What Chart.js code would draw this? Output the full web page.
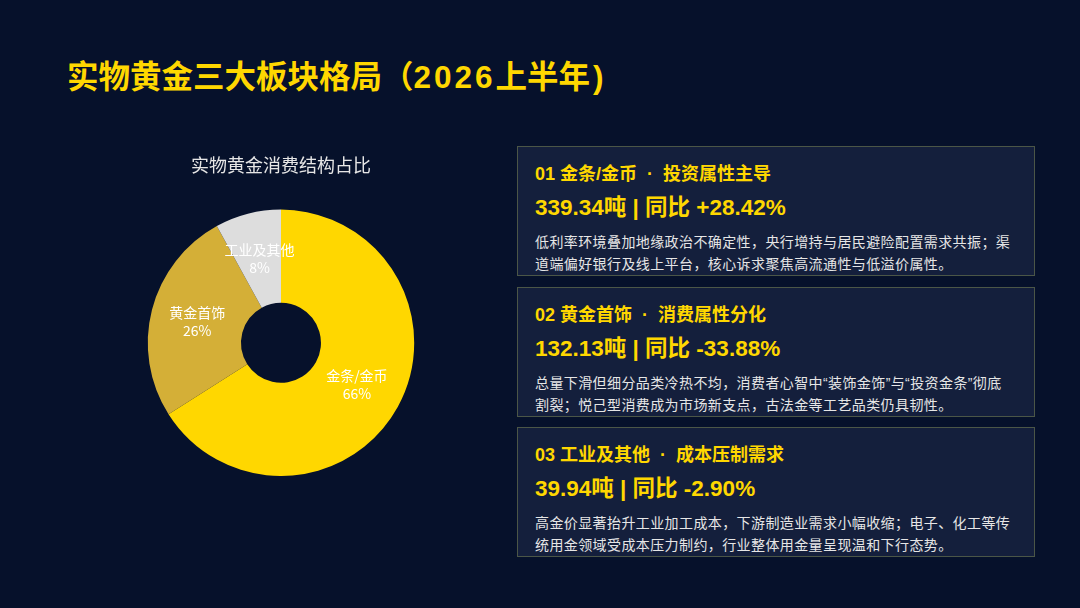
<!DOCTYPE html>
<html>
<head>
<meta charset="utf-8">
<script src="https://cdn.jsdelivr.net/npm/chart.js@4.4.1/dist/chart.umd.min.js"></script>
<style>
  html, body { margin: 0; padding: 0; }
  body {
    width: 1080px; height: 608px; overflow: hidden; position: relative;
    background: #06112b;
    font-family: 'Liberation Sans', 'Noto Sans CJK SC', sans-serif;
  }
  .title {
    position: absolute; left: 67px; top: 55px;
    font-size: 31.5px; font-weight: bold; color: #ffd700; line-height: 44px;
    white-space: nowrap;
  }
  .title .yr { letter-spacing: 3px; }
  .title .cp { margin-left: 3px; }
  #wrap { position: absolute; left: 131px; top: 150px; width: 300px; height: 326px; }
  .card {
    position: absolute; left: 517px; width: 518px; height: 130px;
    background: #141f3c; border: 1px solid #4b5647; box-sizing: border-box;
  }
  .card .h { position: absolute; left: 17px; top: 14px; font-size: 18px; font-weight: bold; color: #ffd700; line-height: 26px; white-space: nowrap; }
  .card .v { position: absolute; left: 17px; top: 46px; font-size: 22.5px; font-weight: bold; color: #ffd700; line-height: 30px; white-space: nowrap; }
  .card .b { position: absolute; left: 17px; top: 84px; font-size: 14px; color: #e6e6e6; line-height: 22px; letter-spacing: 0.4px; white-space: nowrap; }
</style>
</head>
<body>
<div class="title">实物黄金三大板块格局（<span class="yr">2026</span>上半年<span class="cp">)</span></div>
<div id="wrap"><canvas id="pie"></canvas></div>

<div class="card" style="top:146px">
  <div class="h">01 金条/金币&nbsp;&nbsp;·&nbsp;&nbsp;投资属性主导</div>
  <div class="v">339.34吨 | 同比 +28.42%</div>
  <div class="b">低利率环境叠加地缘政治不确定性，央行增持与居民避险配置需求共振；渠<br>道端偏好银行及线上平台，核心诉求聚焦高流通性与低溢价属性。</div>
</div>
<div class="card" style="top:287px">
  <div class="h">02 黄金首饰&nbsp;&nbsp;·&nbsp;&nbsp;消费属性分化</div>
  <div class="v">132.13吨 | 同比 -33.88%</div>
  <div class="b">总量下滑但细分品类冷热不均，消费者心智中“装饰金饰”与“投资金条”彻底<br>割裂；悦己型消费成为市场新支点，古法金等工艺品类仍具韧性。</div>
</div>
<div class="card" style="top:427px">
  <div class="h">03 工业及其他&nbsp;&nbsp;·&nbsp;&nbsp;成本压制需求</div>
  <div class="v">39.94吨 | 同比 -2.90%</div>
  <div class="b">高金价显著抬升工业加工成本，下游制造业需求小幅收缩；电子、化工等传<br>统用金领域受成本压力制约，行业整体用金量呈现温和下行态势。</div>
</div>

<script>
const categories = ['金条/金币', '黄金首饰', '工业及其他'];
const shares = [66, 26, 8];
const sliceColors = ['#ffd700', '#d4af37', '#dddddd'];

// draws "name / xx%" in the middle of each slice
const sliceLabels = {
  id: 'sliceLabels',
  afterDatasetsDraw(chart) {
    const ctx = chart.ctx;
    const meta = chart.getDatasetMeta(0);
    ctx.save();
    ctx.fillStyle = '#ffffff';
    ctx.textAlign = 'center';
    ctx.textBaseline = 'middle';
    ctx.font = '14px "Noto Sans CJK SC", sans-serif';
    meta.data.forEach((arc, i) => {
      const p = arc.getCenterPoint();
      ctx.fillText(categories[i], p.x, p.y - 9);
      ctx.fillText(shares[i] + '%', p.x, p.y + 9);
    });
    ctx.restore();
  }
};

new Chart(document.getElementById('pie'), {
  type: 'doughnut',
  data: {
    labels: categories,
    datasets: [{
      data: shares,
      backgroundColor: sliceColors,
      borderWidth: 0
    }]
  },
  options: {
    responsive: true,
    maintainAspectRatio: false,
    animation: false,
    cutout: '30%',
    plugins: {
      legend: { display: false },
      tooltip: { enabled: false },
      title: {
        display: true,
        text: '实物黄金消费结构占比',
        color: '#e6e6e6',
        font: { size: 18, weight: 'normal', family: '"Noto Sans CJK SC", sans-serif' },
        padding: { top: 4, bottom: 34 }
      }
    }
  },
  plugins: [sliceLabels]
});
</script>
</body>
</html>
